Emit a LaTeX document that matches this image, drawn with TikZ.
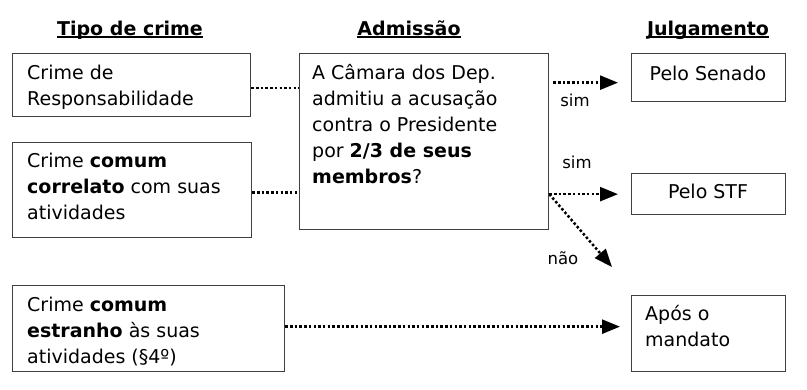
\documentclass[tikz,border=0pt]{standalone}
\usepackage{fontspec}
\setmainfont{DejaVu Sans}
\usetikzlibrary{arrows.meta,calc}
\newcommand\hdrul[1]{\setbox0\hbox{#1}\rlap{\rule[-2.5pt]{\wd0}{1.5pt}}\box0}
\begin{document}
\begin{tikzpicture}[x=1pt,y=-1pt,
 box/.style={draw=black!75, line width=1.3pt, inner sep=0pt, anchor=north west},
 txt/.style={inner sep=0pt, align=left, anchor=north west, font=\fontsize{19}{26}\selectfont},
 ctxt/.style={inner sep=0pt, align=center, anchor=north, font=\fontsize{19}{26}\selectfont},
 hdr/.style={inner sep=0pt, anchor=base, font=\fontsize{19}{22}\selectfont\bfseries},
 lbl/.style={inner sep=0pt, font=\fontsize{16.5}{18}\selectfont},
 dotline/.style={line width=2.5pt, dash pattern=on 2.5pt off 2.2pt},
 arr/.style={dotline, -{Triangle[length=18pt,width=14pt]}}]
\useasboundingbox (0,0) rectangle (807,389);

% headers
\node[hdr] (h1) at (130,35) {\hdrul{Tipo de crime}};
\node[hdr] (h2) at (409,35) {\hdrul{Admissão}};
\node[hdr] (h3) at (708,35) {\hdrul{Julgamento}};

% boxes
\node[box, minimum width=238, minimum height=63] (b1) at (12,53) {};
\node[box, minimum width=239, minimum height=95] (b2) at (12,142) {};
\node[box, minimum width=272, minimum height=86] (b3) at (12,285) {};
\node[box, minimum width=249, minimum height=176] (cam) at (299,53) {};
\node[box, minimum width=154, minimum height=48] (sen) at (631,53) {};
\node[box, minimum width=154, minimum height=41] (stf) at (631,173) {};
\node[box, minimum width=154, minimum height=76] (apos) at (631,295) {};

% texts
\node[txt] (t1) at (27,60.8) {\strut Crime de\\Responsabilidade};
\node[txt] (t2) at (27,149) {\strut Crime \textbf{comum}\\\textbf{correlato} com suas\\atividades};
\node[txt] (t3) at (27,293) {\strut Crime \textbf{comum}\\\textbf{estranho} às suas\\atividades (§4º)};
\node[txt] (tc) at (312,60.8) {\strut A Câmara dos Dep.\\admitiu a acusação\\contra o Presidente\\por \textbf{2/3 de seus}\\\textbf{membros}?};
\node[ctxt] (ts) at (708,61.8) {\strut Pelo Senado};
\node[ctxt] (tf) at (708,179.8) {\strut Pelo STF};
\node[txt] (ta) at (645,302) {\strut Após o\\mandato};

% connectors
\draw[dotline] ([yshift=-3pt]b1.east) -- ([yshift=-3pt]b1.east -| cam.west);
\draw[dotline] ([yshift=-2.5pt]b2.east) -- ([yshift=-2.5pt]b2.east -| cam.west);
\draw[arr] ([xshift=4pt,yshift=-5pt]sen.west -| cam.east) -- ([xshift=-13pt,yshift=-5pt]sen.west);
\draw[arr] (stf.west -| cam.east) -- ([xshift=-13pt]stf.west);
\coordinate (naoend) at (612,267);
\draw[arr] (stf.west -| cam.east) -- (naoend);
\draw[arr] ([yshift=2pt]b3.east) -- ([xshift=-11pt,yshift=2pt]b3.east -| apos.west);

% labels
\node[lbl] (l1) at (575,100) {sim};
\node[lbl] (l2) at (577,162) {sim};
\node[lbl] (l3) at (563,258) {não};
\end{tikzpicture}
\end{document}
